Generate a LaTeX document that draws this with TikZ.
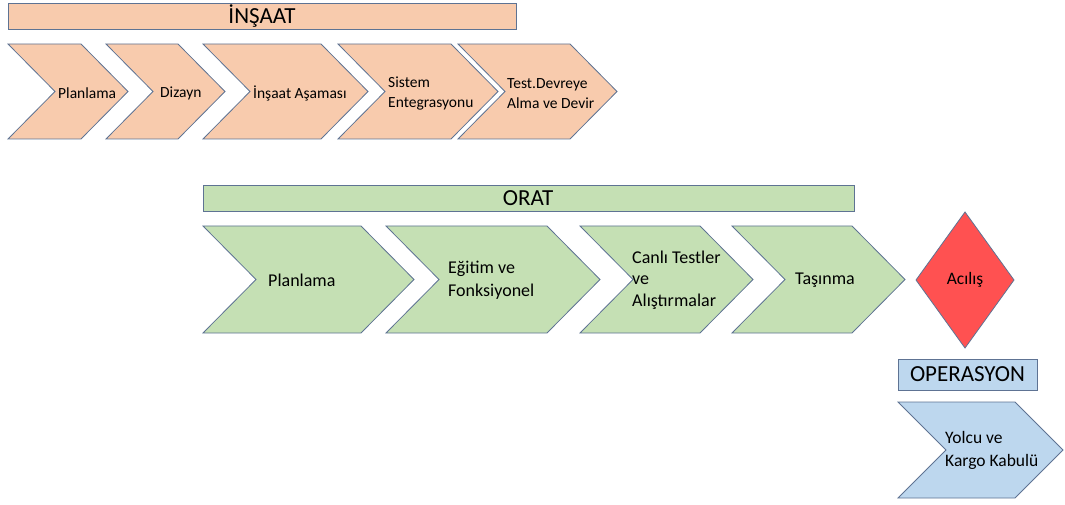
\documentclass[tikz,border=0pt]{standalone}
\usepackage{fontspec}
\setmainfont{Carlito}

\definecolor{peach}{HTML}{F8CBAD}
\definecolor{sage}{HTML}{C5E0B4}
\definecolor{sky}{HTML}{BDD7EE}
\definecolor{alarm}{HTML}{FF5151}
\definecolor{outl}{HTML}{5E7393}

\begin{document}
\begin{tikzpicture}[x=1pt,y=1pt,
  edge/.style={draw=outl,line width=0.8pt,line join=miter},
  title/.style={font=\fontsize{23}{28}\selectfont},
  smalltxt/.style={anchor=west,inner sep=0pt,align=left,font=\fontsize{15.5}{20}\selectfont},
  bigtxt/.style={anchor=west,inner sep=0pt,align=left,font=\fontsize{18}{22.5}\selectfont}]
  \useasboundingbox (0,0) rectangle (1065,504);

  % INSAAT
  \filldraw[edge,fill=peach] (8,475) rectangle (516,501);
  \node[title] (insaat) at (262,488) {İNŞAAT};

  \filldraw[edge,fill=peach] (8,460) -- (81,460) -- (128,412.5) -- (81,365) -- (8,365) -- (55,412.5) -- cycle;
  \node[smalltxt] (i1) at (58,411) {Planlama};

  \filldraw[edge,fill=peach] (106,460) -- (178,460) -- (225,412.5) -- (178,365) -- (106,365) -- (153,412.5) -- cycle;
  \node[smalltxt] (i2) at (160,411) {Dizayn};

  \filldraw[edge,fill=peach] (203,460) -- (321,460) -- (368,412.5) -- (321,365) -- (203,365) -- (250,412.5) -- cycle;
  \node[smalltxt] (i3) at (253,411) {İnşaat Aşaması};

  \filldraw[edge,fill=peach] (338,460) -- (451,460) -- (498,412.5) -- (451,365) -- (338,365) -- (385,412.5) -- cycle;
  \node[smalltxt] (i4) at (388,410) {Sistem\\Entegrasyonu};

  \filldraw[edge,fill=peach] (458,460) -- (570,460) -- (617,412.5) -- (570,365) -- (458,365) -- (505,412.5) -- cycle;
  \node[smalltxt] (i5) at (507,410) {Test.Devreye\\Alma ve Devir};

  % ORAT
  \filldraw[edge,fill=sage] (203,293) rectangle (854,319);
  \node[title] (orat) at (528,306) {ORAT};

  \filldraw[edge,fill=sage] (203,278) -- (361,278) -- (414,224.5) -- (361,171) -- (203,171) -- (256,224.5) -- cycle;
  \node[bigtxt] (o1) at (268,224) {Planlama};

  \filldraw[edge,fill=sage] (386,278) -- (547,278) -- (600,224.5) -- (547,171) -- (386,171) -- (439,224.5) -- cycle;
  \node[bigtxt] (o2) at (448,224) {Eğitim ve\\Fonksiyonel};

  \filldraw[edge,fill=sage] (580,278) -- (700,278) -- (753,224.5) -- (700,171) -- (580,171) -- (633,224.5) -- cycle;
  \node[bigtxt,font=\fontsize{18}{21.5}\selectfont] (o3) at (632,224) {Canlı Testler\\ve\\Alıştırmalar};

  \filldraw[edge,fill=sage] (732,278) -- (852,278) -- (905,224.5) -- (852,171) -- (732,171) -- (785,224.5) -- cycle;
  \node[bigtxt] (o4) at (795,224) {Taşınma};

  % acilis
  \filldraw[edge,fill=alarm] (965,292) -- (1014,224) -- (965,156) -- (916,224) -- cycle;
  \node[font=\fontsize{17.5}{21}\selectfont] (acilis) at (965,224) {Acılış};

  % OPERASYON
  \filldraw[edge,fill=sky] (898,114) rectangle (1037,145);
  \node[title] (operasyon) at (967.5,129.5) {OPERASYON};

  \filldraw[edge,fill=sky] (898,102) -- (1015,102) -- (1063,54) -- (1015,6) -- (898,6) -- (946,54) -- cycle;
  \node[bigtxt,font=\fontsize{17.5}{23}\selectfont] (yolcu) at (945,54) {Yolcu ve\\Kargo Kabulü};

\end{tikzpicture}
\end{document}
